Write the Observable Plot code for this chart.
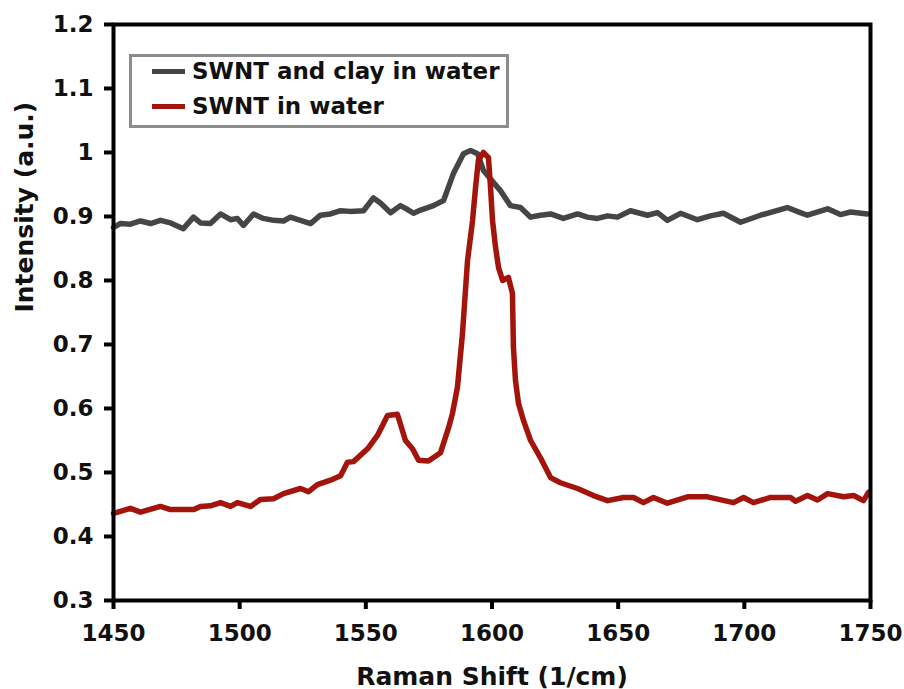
<!DOCTYPE html>
<html>
<head>
<meta charset="utf-8">
<script src="https://cdn.jsdelivr.net/npm/d3@7"></script>
<script src="https://cdn.jsdelivr.net/npm/@observablehq/plot@0.6"></script>
<style>
  html, body { margin: 0; padding: 0; background: #fff; }
  #wrap { position: relative; width: 904px; height: 689px; font-family: "DejaVu Sans", sans-serif; font-weight: bold; }
  #legend { position: absolute; left: 129px; top: 54px; width: 374px; height: 68px; border: 3px solid #8c8c8c; background: #fff; }
  .item { position: absolute; left: 20px; display: flex; align-items: center; font-size: 23px; line-height: 28px; color: #111; white-space: nowrap; }
  .sw { width: 33px; height: 5px; margin-right: 7px; }
</style>
</head>
<body>
<div id="wrap"></div>
<script>
const seriesNames = ["SWNT and clay in water", "SWNT in water"];
const seriesColors = ["#454545", "#a3150c"];
const xTicks = [1450, 1500, 1550, 1600, 1650, 1700, 1750];
const yTicks = [0.3, 0.4, 0.5, 0.6, 0.7, 0.8, 0.9, 1.0, 1.1, 1.2];

const clayShift = [1450,1452.8,1456.7,1460.7,1464.7,1468.6,1472.6,1477.7,1481.7,1484.5,1488.4,1492.4,1496.4,1499.1,1501.5,1505.5,1509.4,1513.4,1517.4,1520.1,1524.1,1528.1,1532,1536,1540,1543.9,1549.1,1553,1555.8,1559.8,1563.7,1566.1,1568.9,1571.7,1576.8,1580.8,1584.7,1588.7,1591.5,1594.3,1596.6,1600.6,1603.4,1607.3,1611.3,1615.3,1619.2,1623.2,1628.3,1633.9,1637.8,1641.8,1645.8,1649.7,1654.9,1661.6,1665.6,1669.5,1674.7,1681.4,1686.6,1691.7,1698.5,1706.4,1717,1722.2,1725,1733,1738.1,1742.1,1748.8];
const clayIntensity = [0.883,0.889,0.888,0.893,0.889,0.894,0.890,0.881,0.899,0.890,0.889,0.904,0.895,0.897,0.886,0.904,0.897,0.894,0.893,0.899,0.894,0.889,0.902,0.904,0.909,0.908,0.909,0.929,0.921,0.906,0.917,0.912,0.905,0.910,0.917,0.925,0.967,0.998,1.003,0.998,0.972,0.953,0.940,0.917,0.914,0.899,0.902,0.904,0.897,0.904,0.899,0.897,0.901,0.899,0.909,0.902,0.906,0.894,0.905,0.895,0.901,0.905,0.891,0.902,0.914,0.906,0.902,0.912,0.903,0.907,0.904];

const waterShift = [1450,1456.7,1460.7,1468.6,1472.6,1481.7,1484.5,1488.4,1492.4,1496.4,1499.1,1504.3,1508.3,1513.4,1517.4,1524.1,1527.3,1530.8,1536,1540,1542.7,1545.1,1550.7,1554.6,1558.6,1562.5,1565.7,1568.5,1570.9,1574.8,1579.6,1582.8,1584.3,1586.3,1588.3,1590.3,1592.3,1593.5,1594.6,1596.6,1598.6,1599.4,1600.2,1601.4,1602.6,1604.2,1606.5,1608.1,1608.5,1609.3,1610.5,1612.5,1615.3,1619.2,1623.2,1627.1,1633.9,1640.2,1645.8,1652.1,1656.1,1660,1664,1669.5,1677.5,1685.4,1695.7,1699.7,1703.6,1710.4,1718.3,1720.3,1725,1729,1733,1739.3,1743.3,1747.2,1749.2];
const waterIntensity = [0.436,0.444,0.438,0.447,0.442,0.442,0.447,0.448,0.453,0.447,0.453,0.447,0.458,0.459,0.467,0.475,0.470,0.481,0.488,0.495,0.516,0.517,0.537,0.558,0.589,0.591,0.550,0.537,0.519,0.518,0.531,0.570,0.592,0.633,0.717,0.831,0.894,0.946,0.988,1.000,0.992,0.946,0.894,0.852,0.820,0.800,0.805,0.780,0.695,0.644,0.608,0.581,0.550,0.523,0.492,0.484,0.475,0.464,0.456,0.461,0.461,0.453,0.461,0.452,0.462,0.462,0.453,0.461,0.453,0.461,0.461,0.455,0.464,0.457,0.467,0.462,0.464,0.456,0.469];

const clay = clayShift.map((x, i) => ({x, y: clayIntensity[i], s: seriesNames[0]}));
const water = waterShift.map((x, i) => ({x, y: waterIntensity[i], s: seriesNames[1]}));

const font = {fontFamily: "DejaVu Sans", fontWeight: "bold"};

const chart = Plot.plot({
  width: 904,
  height: 689,
  marginLeft: 113,
  marginRight: 34,
  marginTop: 24,
  marginBottom: 89,
  style: {fontFamily: "DejaVu Sans", fontWeight: "bold", fontSize: "23px", color: "#111", background: "#fff"},
  x: {domain: [1450, 1750]},
  y: {domain: [0.3, 1.2]},
  marks: [
    Plot.line(clay, {x: "x", y: "y", stroke: seriesColors[0], strokeWidth: 5.5, strokeLinejoin: "round", strokeLinecap: "round"}),
    Plot.line(water, {x: "x", y: "y", stroke: seriesColors[1], strokeWidth: 5.5, strokeLinejoin: "round", strokeLinecap: "round"}),
    Plot.axisX({ticks: xTicks, tickSize: 9, tickPadding: 15, strokeWidth: 4, stroke: "#000", fontSize: 23, label: null, tickFormat: d => String(d)}),
    Plot.axisY({ticks: yTicks, tickSize: 9, tickPadding: 11, strokeWidth: 4, stroke: "#000", fontSize: 23, label: null, tickFormat: d => String(+d.toFixed(1))}),
    Plot.frame({stroke: "#000", strokeWidth: 4}),
    Plot.text(["Raman Shift (1/cm)"], {frameAnchor: "bottom", dy: 84, text: d => d, fontSize: 25, ...font, fill: "#111"}),
    Plot.text(["Intensity (a.u.)"], {frameAnchor: "left", dx: -89, rotate: -90, text: d => d, fontSize: 25, ...font, fill: "#111"})
  ]
});

const wrap = document.getElementById("wrap");
wrap.appendChild(chart);
const legend = document.createElement("div");
legend.id = "legend";
seriesNames.forEach((name, i) => {
  const item = document.createElement("div");
  item.className = "item";
  item.style.top = (i === 0 ? 0 : 35) + "px";
  const sw = document.createElement("span");
  sw.className = "sw";
  sw.style.background = seriesColors[i];
  const t = document.createElement("span");
  t.textContent = name;
  item.appendChild(sw);
  item.appendChild(t);
  legend.appendChild(item);
});
wrap.appendChild(legend);
</script>
</body>
</html>
